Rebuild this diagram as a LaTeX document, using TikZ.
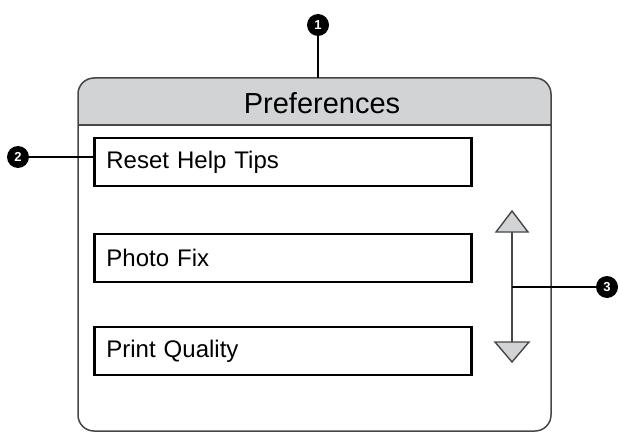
\documentclass[tikz,border=0pt]{standalone}
\usepackage{fontspec}
\setmainfont{Liberation Sans}
\usepackage{tikz}
\definecolor{headgray}{RGB}{210,211,213}
\definecolor{edgegray}{RGB}{70,70,70}
\newcommand{\callcol}{black}

\tikzset{
  callout/.style={circle, fill=\callcol, text=white, inner sep=0pt, minimum size=22pt,
    font=\fontsize{13}{13}\selectfont\bfseries},
  btnbox/.style={draw=black, line width=2.8pt, anchor=west, minimum height=48pt,
    text width=353pt, inner xsep=12pt, align=left, font=\fontsize{24}{24}\selectfont},
  lead/.style={draw=black, line width=1.2pt},
  scrolltip/.style={fill=headgray, draw=edgegray, line width=1.4pt, line join=miter}
}

\begin{document}
\begin{tikzpicture}[x=1pt, y=-1pt]

    \useasboundingbox (0, 0) rectangle (620, 433);

    % fenetre
    \begin{scope}
      \clip[rounded corners=16pt] (78, 78) rectangle (551, 431);
      \fill[headgray] (78, 78) rectangle (551, 125);
    \end{scope}
    \draw[draw=edgegray, line width=1.5pt] (78, 125) -- (551, 125);
    \draw[draw=edgegray, line width=1.5pt, rounded corners=16pt] (78, 78) rectangle (551, 431);

    \node[font=\fontsize{29}{29}\selectfont] (title) at (322, 103) {Preferences};

    % boutons
    \node[btnbox] (btn1) at (93, 162) {Reset Help Tips};
    \node[btnbox] (btn2) at (93, 258) {Photo Fix};
    \node[btnbox] (btn3) at (93, 351) {Print Quality};

    % defilement
    \draw[draw=edgegray, line width=1.8pt] (512, 232) -- (512, 342);
    \draw[scrolltip] (512, 211) -- (528, 232) -- (496, 232) -- cycle;
    \draw[scrolltip] (512, 362) -- (529, 342) -- (495, 342) -- cycle;

    % reperes
    \node[callout] (c1) at (318, 25) {1};
    \node[callout] (c2) at (18, 157) {2};
    \node[callout] (c3) at (607, 287) {3};

    \coordinate (top) at (318, 78);
    \coordinate (bar) at (512, 287);

    \draw[lead] (c1) -- (top);
    \draw[lead] (c2) -- (btn1.west |- c2);
    \draw[lead] (c3) -- (bar);

  \end{tikzpicture}
\end{document}
